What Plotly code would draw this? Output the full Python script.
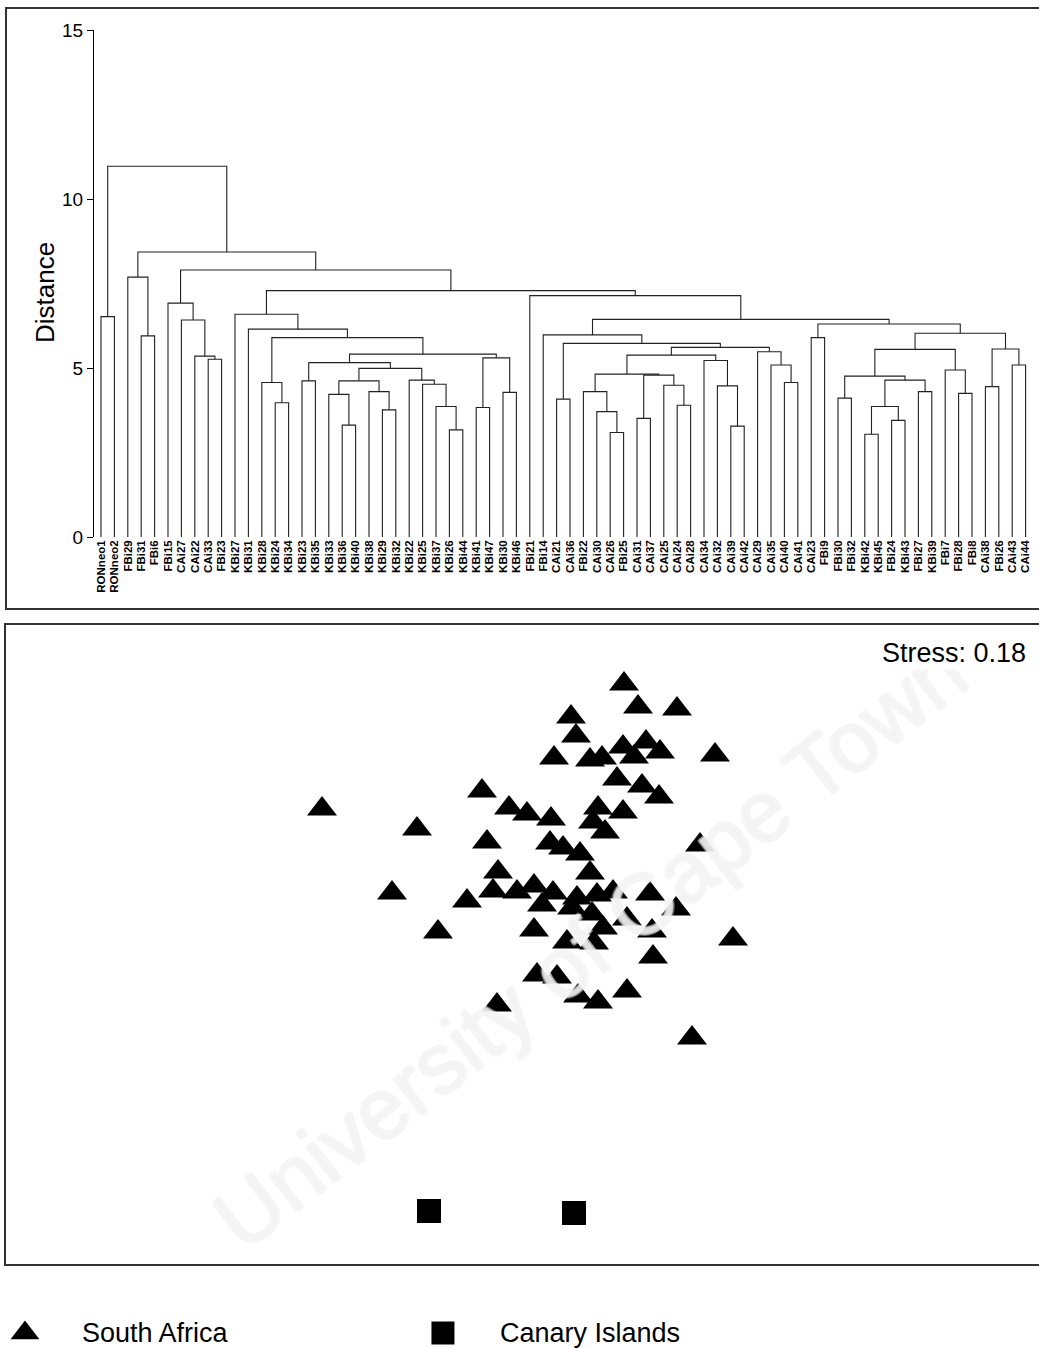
import plotly.graph_objects as go

W, H = 1039, 1348
FONT = "Liberation Sans, Arial, sans-serif"

# ---- cluster dendrogram (leaf order left to right) ----
leaf_labels = [
    "RONneo1", "RONneo2", "FBi29", "FBi31", "FBi6", "FBi15", "CAi27", "CAi22", "CAi33", "FBi23",
    "KBi27", "KBi31", "KBi28", "KBi24", "KBi34", "KBi23", "KBi35", "KBi33", "KBi36", "KBi40",
    "KBi38", "KBi29", "KBi32", "KBi22", "KBi25", "KBi37", "KBi26", "KBi44", "KBi41", "KBi47",
    "KBi30", "KBi46", "FBi21", "FBi14", "CAi21", "CAi36", "FBi22", "CAi30", "CAi26", "FBi25",
    "CAi31", "CAi37", "CAi25", "CAi24", "CAi28", "CAi34", "CAi32", "CAi39", "CAi42", "CAi29",
    "CAi35", "CAi40", "CAi41", "CAi23", "FBi9", "FBi30", "FBi32", "KBi42", "KBi45", "FBi24",
    "KBi43", "FBi27", "KBi39", "FBi7", "FBi28", "FBi8", "CAi38", "FBi26", "CAi43", "CAi44",
]

# agglomeration steps: node Nk joins join_a[k-1] and join_b[k-1] at join_dist[k-1]
join_a = [
    "RONneo1", "FBi31", "FBi29", "CAi33", "CAi22", "CAi27", "FBi15",
    "KBi24", "KBi28", "KBi23", "KBi36", "KBi33", "KBi29", "KBi38", "N12",
    "KBi26", "KBi37", "KBi25", "KBi22", "N15", "N10", "KBi41", "KBi30", "N22",
    "N21", "N9", "KBi31", "KBi27",
    "CAi21", "CAi26", "CAi30", "FBi22", "CAi31", "CAi24", "CAi25", "N33", "N32",
    "CAi39", "CAi32", "CAi34", "N37", "CAi40", "CAi35", "CAi29", "N41", "N29", "FBi14",
    "CAi23", "FBi30", "KBi42", "FBi24", "N50", "FBi27", "N52", "N49", "FBi28", "FBi7",
    "N55", "CAi38", "CAi43", "N59", "N58", "N48", "N47", "FBi21", "N28", "N7", "N3", "N1",
]
join_b = [
    "RONneo2", "FBi6", "N2", "FBi23", "N4", "N5", "N6",
    "KBi34", "N8", "KBi35", "KBi40", "N11", "KBi32", "N13", "N14",
    "KBi44", "N16", "N17", "N18", "N19", "N20", "KBi47", "KBi46", "N23",
    "N24", "N25", "N26", "N27",
    "CAi36", "FBi25", "N30", "N31", "CAi37", "CAi28", "N34", "N35", "N36",
    "CAi42", "N38", "N39", "N40", "CAi41", "N42", "N43", "N44", "N45", "N46",
    "FBi9", "FBi32", "KBi45", "KBi43", "N51", "KBi39", "N53", "N54", "FBi8", "N56",
    "N57", "FBi26", "CAi44", "N60", "N61", "N62", "N63", "N64", "N65", "N66", "N67", "N68",
]
join_dist = [
    6.52, 5.95, 7.69, 5.26, 5.35, 6.42, 6.92,
    3.97, 4.57, 4.62, 3.31, 4.22, 3.76, 4.30, 4.62,
    3.17, 3.86, 4.52, 4.64, 4.99, 5.16, 3.83, 4.28, 5.30,
    5.41, 5.90, 6.15, 6.59,
    4.08, 3.09, 3.71, 4.30, 3.51, 3.90, 4.49, 4.79, 4.82,
    3.28, 4.47, 5.22, 5.38, 4.57, 5.09, 5.48, 5.61, 5.73, 5.98,
    5.90, 4.11, 3.04, 3.45, 3.86, 4.30, 4.64, 4.76, 4.25, 4.94,
    5.55, 4.45, 5.09, 5.56, 6.03, 6.30, 6.44, 7.14, 7.29, 7.90, 8.43, 10.97,
]
distance_ticks = [0, 5, 10, 15]

# ---- MDS ordination ----
sa_dim1 = [
    0.64, 0.78, 1.17, 0.11, 0.16, -0.06, 0.30, 0.42, 0.63, 0.74,
    0.86, 1.00, 1.55, 0.57, 0.82, 0.99, -0.78, -0.51, -0.33, -0.09,
    0.63, -0.73, 1.40, -0.10, 0.03, 0.20, 0.38, 0.45, 0.33, -0.62,
    -0.67, -0.93, -0.43, -0.26, -0.07, -0.18, 0.17, 0.12, 0.30, 0.37,
    0.53, 0.32, 0.43, 0.90, 1.16, 0.67, 0.92, 1.73, -0.26, 0.07,
    0.34, 0.93, -0.23, -0.03, 0.18, 0.38, 0.67, -0.63, 1.32, -1.22,
    -2.38, -1.43, -1.68,
]
sa_dim2 = [
    2.16, 1.93, 1.91, 1.83, 1.64, 1.42, 1.40, 1.42, 1.53, 1.43,
    1.58, 1.48, 1.45, 1.21, 1.14, 1.03, 1.09, 0.92, 0.86, 0.81,
    0.88, 0.58, 0.55, 0.57, 0.52, 0.46, 0.92, 0.68, 0.78, 0.28,
    0.09, -0.01, 0.08, 0.14, 0.07, -0.05, 0.02, -0.08, 0.27, 0.05,
    0.08, -0.14, -0.28, 0.06, -0.09, -0.19, -0.31, -0.39, -0.30, -0.42,
    -0.43, -0.57, -0.75, -0.77, -0.96, -1.02, -0.91, -1.05, -1.38, -0.32,
    0.91, 0.71, 0.07,
]
ci_dim1 = [-1.31, 0.14]
ci_dim2 = [-3.11, -3.13]
stress = 0.18

key_labels = ["South Africa", "Canary Islands"]
key_symbols = ["triangle-up", "square"]

# ---- build dendrogram segments ----
pos = {name: (i + 1, 0.0) for i, name in enumerate(leaf_labels)}
seg_x, seg_y = [], []
for k, (a, b, h) in enumerate(zip(join_a, join_b, join_dist), start=1):
    xa, ha = pos[a]
    xb, hb = pos[b]
    seg_x += [xa, xa, xb, xb, None]
    seg_y += [ha, h, h, hb, None]
    pos[f"N{k}"] = ((xa + xb) / 2, h)

fig = go.Figure()

fig.add_trace(go.Scatter(
    x=seg_x, y=seg_y, mode="lines", xaxis="x", yaxis="y",
    line=dict(color="#222222", width=1.1), hoverinfo="skip", showlegend=False,
))

fig.add_trace(go.Scatter(
    x=sa_dim1, y=sa_dim2, mode="markers", xaxis="x2", yaxis="y2",
    marker=dict(symbol="triangle-up", size=26, color="black", line=dict(width=0)),
    name="South Africa", showlegend=False,
))
fig.add_trace(go.Scatter(
    x=ci_dim1, y=ci_dim2, mode="markers", xaxis="x2", yaxis="y2",
    marker=dict(symbol="square", size=24, color="black", line=dict(width=0)),
    name="Canary Islands", showlegend=False,
))

# key row under the ordination
for i, (lab, sym) in enumerate(zip(key_labels, key_symbols)):
    fig.add_trace(go.Scatter(
        x=[i], y=[0], mode="markers", xaxis="x4", yaxis="y4",
        marker=dict(symbol=sym, size=25 if sym == "triangle-up" else 23,
                    color="black", line=dict(width=0)),
        showlegend=False, hoverinfo="skip",
    ))


def py(v):
    return 1 - v / H


def px(v):
    return v / W


# faint diagonal watermark first, so the labels sit on top of it
annotations = [dict(
    text="University of Cape Town", textangle=-38, x=px(590), y=py(945),
    xref="paper", yref="paper", xanchor="center", yanchor="middle", showarrow=False,
    font=dict(family=FONT, size=86, color="rgba(255,255,255,0.4)",
              shadow="-1px -1px 0 #ebebeb, 1px -1px 0 #ebebeb, -1px 1px 0 #ebebeb, 1px 1px 0 #ebebeb"),
)]
annotations += [
    dict(text="Distance", textangle=-90, x=px(45), y=py(293), xref="paper", yref="paper",
         xanchor="center", yanchor="middle", showarrow=False,
         font=dict(family=FONT, size=26, color="black")),
    dict(text=f"Stress: {stress:.2f}", x=px(1028), y=py(653), xref="paper", yref="paper",
         xanchor="right", yanchor="middle", showarrow=False, bgcolor="white",
         font=dict(family=FONT, size=27, color="black")),
]
for i, lab in enumerate(key_labels):
    annotations.append(dict(
        text=lab, x=i + 0.1316, y=0, xref="x4", yref="y4", xanchor="left", yanchor="middle",
        showarrow=False, font=dict(family=FONT, size=27, color="black"),
    ))

shapes = [
    dict(type="rect", xref="paper", yref="paper", x0=px(6), x1=1.02, y0=py(609), y1=py(8),
         line=dict(color="#333333", width=2), layer="below"),
    dict(type="rect", xref="paper", yref="paper", x0=px(5), x1=1.02, y0=py(1265), y1=py(624),
         line=dict(color="#333333", width=2), layer="below"),
]

ydom = [py(537), py(30)]
fig.update_layout(
    width=W, height=H, margin=dict(l=0, r=0, t=0, b=0, pad=0), autosize=False,
    paper_bgcolor="white", plot_bgcolor="white",
    font=dict(family=FONT, color="black"),
    xaxis=dict(domain=[px(94), 1], range=[0.478, 71.0], anchor="y", automargin=False,
               tickmode="array", tickvals=list(range(1, len(leaf_labels) + 1)),
               ticktext=leaf_labels, tickangle=-90, ticks="", showgrid=False,
               zeroline=False, showline=False,
               tickfont=dict(family=FONT, size=11.5, color="black", weight="bold")),
    yaxis=dict(domain=ydom, range=[0, 15], anchor="x", automargin=False, tickmode="array",
               tickvals=distance_ticks, ticks="outside", ticklen=6, tickcolor="black",
               showline=True, linecolor="black", linewidth=1, showgrid=False,
               zeroline=False, tickfont=dict(family=FONT, size=19, color="black")),
    yaxis3=dict(domain=ydom, range=[0, 15], anchor="x", overlaying="y", automargin=False,
                tickmode="array", tickvals=distance_ticks, ticks="inside", ticklen=6,
                tickcolor="black", showticklabels=False, showline=False, showgrid=False,
                zeroline=False),
    xaxis2=dict(domain=[px(4), 1], range=[-5.56, 4.79], anchor="y2", visible=False,
                automargin=False),
    yaxis2=dict(domain=[py(1265), py(624)], range=[-3.65, 2.76], anchor="x2", visible=False,
                automargin=False),
    xaxis4=dict(domain=[0, 1], range=[-0.0598, 2.426], anchor="y4", visible=False,
                automargin=False),
    yaxis4=dict(domain=[0, 2 * py(1333)], range=[-1, 1], anchor="x4", visible=False,
                automargin=False),
    annotations=annotations,
    shapes=shapes,
)

fig.write_html("out.html")
